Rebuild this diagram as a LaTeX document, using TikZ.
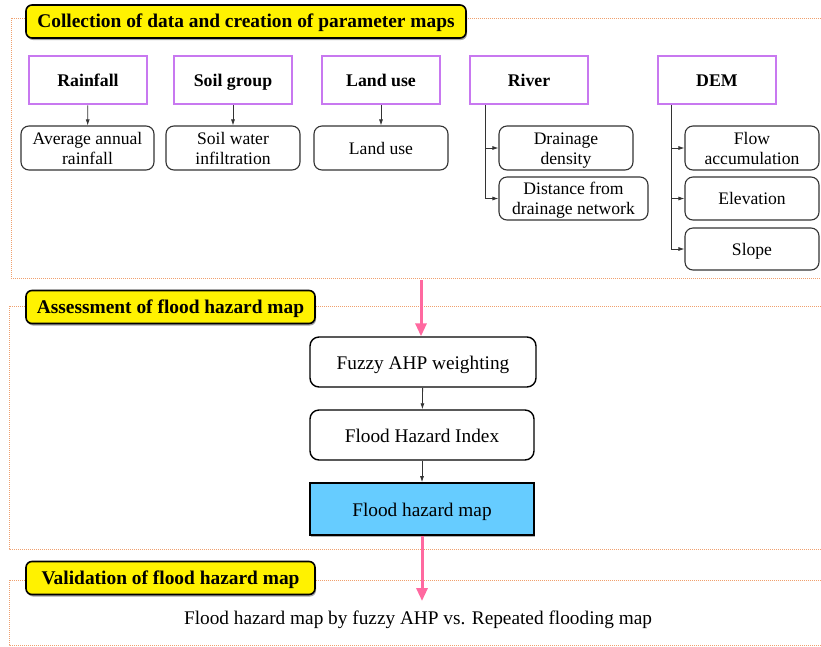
\documentclass[tikz,border=0pt]{standalone}
\usepackage{fontspec}
\setmainfont{Liberation Serif}
\usetikzlibrary{arrows.meta,shadows}
\definecolor{dashor}{RGB}{240,160,110}
\definecolor{purp}{RGB}{200,120,240}
\definecolor{pinkar}{RGB}{255,105,160}
\definecolor{mapblue}{RGB}{102,204,255}
\newcommand\lnstrut{\rule[-4pt]{0pt}{20pt}}
\tikzset{
  sect/.style={draw=dashor, densely dotted, line width=1pt},
  title/.style={draw=black, line width=1.6pt, fill=yellow, rounded corners=6pt, inner sep=0pt, minimum height=33pt, text height=15pt, text depth=3pt, font=\fontsize{19.4}{22}\selectfont\bfseries, drop shadow={shadow xshift=1pt, shadow yshift=-2pt, fill=black!70}},
  src/.style={draw=purp, line width=2.5pt, minimum width=118pt, minimum height=48pt, inner sep=0pt, text height=14.5pt, text depth=2pt, font=\fontsize{17.8}{20}\selectfont\bfseries},
  sub/.style={draw=black!80, line width=1.1pt, rounded corners=8pt, minimum height=44pt, inner sep=0pt, align=center, font=\fontsize{17.6}{20}\selectfont},
  proc/.style={draw=black, line width=1.4pt, rounded corners=9pt, minimum width=225pt, minimum height=50pt, inner sep=0pt, text height=17pt, text depth=3pt, font=\fontsize{19.3}{22}\selectfont},
  arr/.style={draw=black!80, line width=0.8pt, -{Latex[length=6pt,width=4pt]}},
  pink/.style={draw=pinkar, line width=3pt, -{Triangle[length=13pt,width=11pt]}},
}
\begin{document}
\begin{tikzpicture}[x=1pt,y=-1pt]
\useasboundingbox (0,0) rectangle (821,646);
% section frames
\draw[sect] (821,18) -- (11,18) -- (11,278) -- (821,278);
\draw[sect] (821,306) -- (9,306) -- (9,549) -- (821,549);
\draw[sect] (821,580) -- (9,580) -- (9,645) -- (821,645);
% titles
\node[title, minimum width=440pt] (t1) at (246,21.5) {Collection of data and creation of parameter maps};
\node[title, minimum width=289pt] (t2) at (170.5,307) {Assessment of flood hazard map};
\node[title, minimum width=289pt] (t3) at (170.5,578) {Validation of flood hazard map};
% source boxes
\node[src] (rain) at (88,80) {Rainfall};
\node[src] (soil) at (233,80) {Soil group};
\node[src] (land) at (381,80) {Land use};
\node[src] (river) at (529,80) {River};
\node[src] (dem) at (717,80) {DEM};
% derived boxes
\node[sub, minimum width=133pt] (avg) at (87.5,148) {Average annual\lnstrut\\rainfall\lnstrut};
\node[sub, minimum width=134pt] (swi) at (233,148) {Soil water\lnstrut\\infiltration\lnstrut};
\node[sub, minimum width=134pt] (lu) at (381,148) {Land use\lnstrut};
\node[sub, minimum width=134pt] (dd) at (566,148) {Drainage\lnstrut\\density\lnstrut};
\node[sub, minimum width=149pt, minimum height=43pt] (dist) at (573.5,198.5) {Distance from\lnstrut\\drainage network\lnstrut};
\node[sub, minimum width=134pt] (flow) at (752,148) {Flow\lnstrut\\accumulation\lnstrut};
\node[sub, minimum width=134pt, minimum height=43pt] (elev) at (752,198.5) {Elevation\lnstrut};
\node[sub, minimum width=134pt, minimum height=42pt] (slope) at (752,249) {Slope\lnstrut};
% connectors top
\draw[arr] (rain) -- (avg);
\draw[arr] (soil) -- (swi);
\draw[arr] (land) -- (lu);
\coordinate (rv) at ([xshift=17pt]river.south west);
\coordinate (dm) at ([xshift=15pt]dem.south west);
\draw[arr] (rv) |- (dd.west);
\draw[arr] (rv) |- (dist.west);
\draw[arr] (dm) |- (flow.west);
\draw[arr] (dm) |- (elev.west);
\draw[arr] (dm) |- (slope.west);
% process
\node[proc, minimum width=226pt] (fahp) at (423,362) {Fuzzy AHP weighting};
\node[proc, minimum width=224pt] (fhi) at (422,435) {Flood Hazard Index};
\node[draw=black, line width=1.6pt, fill=mapblue, minimum width=224pt, minimum height=52pt, inner sep=0pt, text height=17pt, text depth=3pt, font=\fontsize{19.3}{22}\selectfont, drop shadow={shadow xshift=1pt, shadow yshift=-2pt, fill=black!60}] (fhm) at (422,509) {Flood hazard map};
\draw[arr] (fahp) -- (fhi);
\draw[arr] (fhi) -- (fhm);
\coordinate (p1) at (421,280);
\draw[pink] (p1) -- (fahp.north -| p1);
\coordinate (p2) at (fhm.south |- 0,601);
\draw[pink] (fhm.south) -- (p2);
\node[font=\fontsize{19.3}{22}\selectfont, text height=17pt, text depth=3pt] (val) at (418,617) {Flood hazard map by fuzzy AHP vs. Repeated flooding map};
\end{tikzpicture}
\end{document}
